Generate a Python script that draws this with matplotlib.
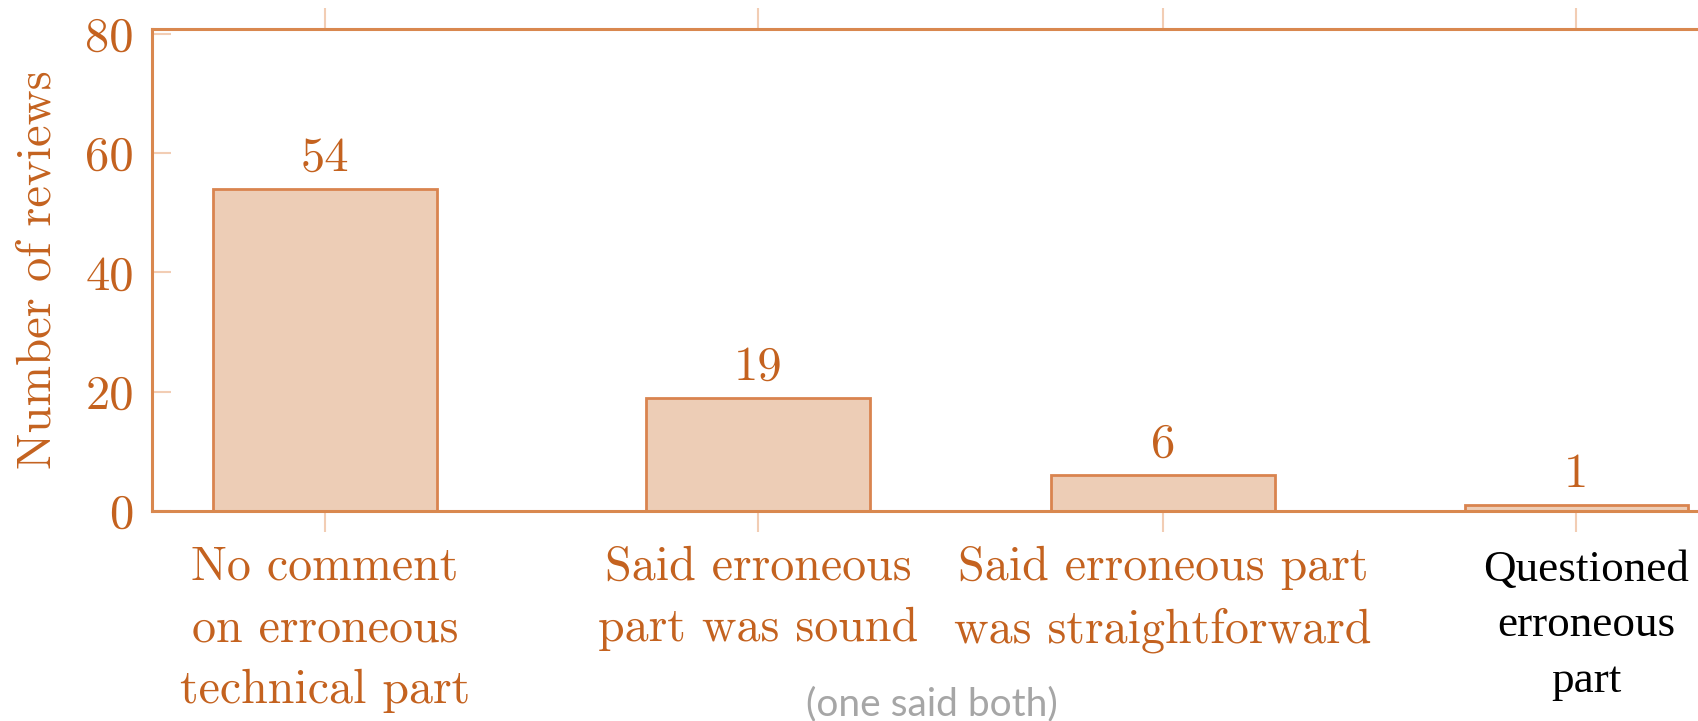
import matplotlib
matplotlib.use("Agg")
import matplotlib.pyplot as plt
import matplotlib.transforms as mtransforms

# --- data -------------------------------------------------------------
categories = [
    "No comment\non erroneous\ntechnical part",
    "Said erroneous\npart was sound",
    "Said erroneous part\nwas straightforward",
    "Questioned\nerroneous\npart",
]
review_counts = [54, 19, 6, 1]
y_ticks = [0, 20, 40, 60, 80]
y_label = "Number of reviews"
footnote = "(one said both)"

# --- layout / style ---------------------------------------------------
slot_x = [0.0, 1.0, 1.935, 2.89]
bar_width = 0.517
text_orange = "#C4621F"
axis_orange = "#D9884F"
bar_fill = "#EDCDB6"
bar_edge = "#D9844F"
tick_color = "#F2CDB4"

plt.rcParams["font.family"] = "cmr10"
plt.rcParams["axes.formatter.use_mathtext"] = True

fig = plt.figure(figsize=(16.99, 7.21), dpi=100)
ax = fig.add_axes([152 / 1699, (721 - 511) / 721, 1 - 152 / 1699, (511 - 29) / 721])

ax.bar(slot_x, review_counts, width=bar_width, color=bar_fill,
       edgecolor=bar_edge, linewidth=2.0, zorder=2)

for x, v in zip(slot_x, review_counts):
    ax.annotate(str(v), xy=(x, v), xytext=(0, 13), textcoords="offset points",
                ha="center", va="baseline", fontsize=35, color=text_orange)

ax.set_xlim(-0.3995, 3.173)
ax.set_ylim(0, 80.8)

for side in ("left", "bottom", "top"):
    ax.spines[side].set_color(axis_orange)
    ax.spines[side].set_linewidth(2.2)
ax.spines["right"].set_visible(False)

ax.set_yticks(y_ticks)
ax.set_yticklabels([str(t) for t in y_ticks])
ax.tick_params(axis="y", direction="in", length=14, width=1.5, color=tick_color,
               labelcolor=text_orange, labelsize=35, pad=13, left=True, right=False)

ax.set_xticks(slot_x)
ax.set_xticklabels(categories, linespacing=1.5)
ax.tick_params(axis="x", direction="out", length=15, width=1.5, color=tick_color,
               labelcolor=text_orange, labelsize=34.5, pad=10, top=True, bottom=True)

# last category label in a different typeface, nudged slightly right
last = ax.get_xticklabels()[-1]
last.set_color("black")
last.set_fontfamily(["Liberation Serif", "DejaVu Serif"])
last.set_fontsize(32.5)
last.set_linespacing(1.5)
last.set_transform(last.get_transform() +
                   mtransforms.ScaledTranslation(10 / 100, -4 / 100, fig.dpi_scale_trans))

ax.set_ylabel(y_label, fontsize=35, color=text_orange, labelpad=18)

fig.text(932 / 1699, (721 - 704) / 721, footnote, ha="center", va="center",
         fontsize=28, color="#A6A6A6", family="Lato")

fig.savefig("out.png", dpi=100)
